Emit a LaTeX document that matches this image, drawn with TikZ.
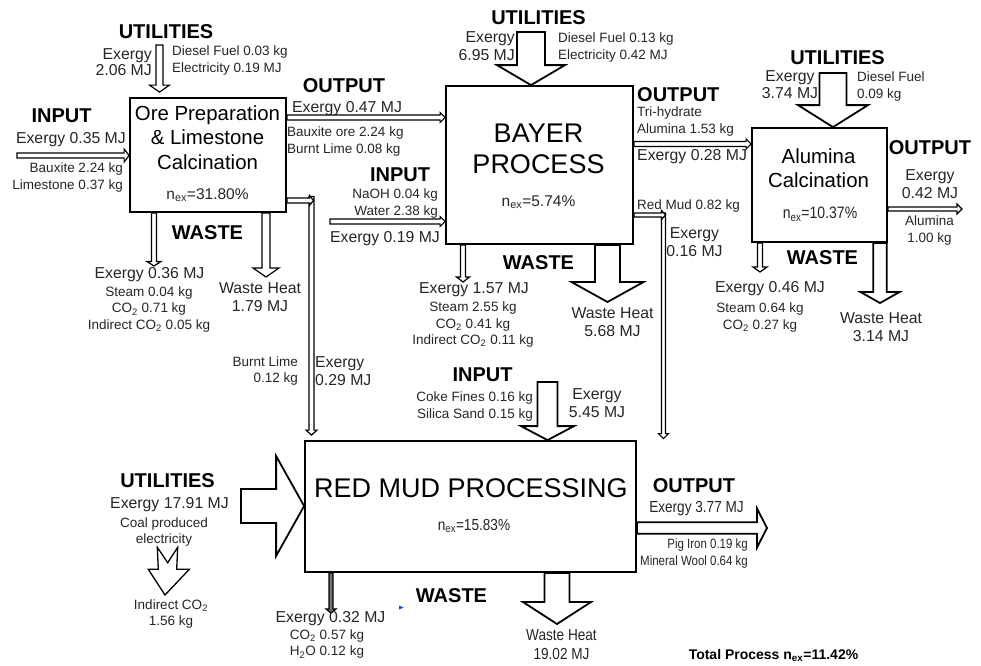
\documentclass[tikz,border=0pt]{standalone}
\usepackage{fontspec}
\setmainfont{Liberation Sans}
\newfontfamily\narrowfont[FakeStretch=0.85]{Liberation Sans}
\usetikzlibrary{calc}
\pgfdeclarelayer{back}
\pgfdeclarelayer{arrows}
\pgfsetlayers{back,arrows,main}

% hollow arrow pointing down: [style]{from}{tip}{shaft half}{head half}{head length}
\newcommand{\flowdown}[6][]{%
  \draw[flowline,#1] let \p1=(#2), \p2=(#3) in
    (\x1-#4pt,\y1) -- (\x1-#4pt,\y2+#6pt) -- (\x1-#5pt,\y2+#6pt) -- (\x1,\y2)
    -- (\x1+#5pt,\y2+#6pt) -- (\x1+#4pt,\y2+#6pt) -- (\x1+#4pt,\y1) -- cycle;}
% hollow arrow pointing right
\newcommand{\flowright}[6][]{%
  \draw[flowline,#1] let \p1=(#2), \p2=(#3) in
    (\x1,\y1+#4pt) -- (\x2-#6pt,\y1+#4pt) -- (\x2-#6pt,\y1+#5pt) -- (\x2,\y1)
    -- (\x2-#6pt,\y1-#5pt) -- (\x2-#6pt,\y1-#4pt) -- (\x1,\y1-#4pt) -- cycle;}

\tikzset{
  flowline/.style={draw=black, fill=white, line width=1.2pt, line join=miter},
  bigflow/.style={line width=1.8pt},
  procbox/.style={draw=black, fill=white, line width=1.8pt, inner sep=0pt},
  hd/.style={font=\fontsize{20}{24}\selectfont\bfseries, inner sep=0pt, text=black},
  md/.style={font=\fontsize{15.8}{18}\selectfont, inner sep=0pt, text=black!85},
  mdn/.style={font=\narrowfont\fontsize{16}{18.5}\selectfont, inner sep=0pt, text=black!85},
  sm/.style={font=\fontsize{13.5}{16.7}\selectfont, inner sep=0pt, text=black!85},
  smn/.style={font=\narrowfont\fontsize{13.5}{17}\selectfont, inner sep=0pt, text=black!85},
  bx/.style={font=\fontsize{20.4}{24.5}\selectfont, inner sep=0pt, align=center, text=black},
  bgt/.style={font=\fontsize{27}{30.5}\selectfont, inner sep=0pt, align=center, text=black},
  nx/.style={font=\fontsize{15.5}{18}\selectfont, inner sep=0pt, text=black!85},
  nxn/.style={font=\narrowfont\fontsize{16.5}{18}\selectfont, inner sep=0pt, text=black!85},
}

\begin{document}
\begin{tikzpicture}[x=1pt,y=-1pt]
\begin{pgfonlayer}{back}
  \fill[white] (0,0) rectangle (981,665);
\end{pgfonlayer}
\path[use as bounding box] (0,0) rectangle (981,665);

% process boxes
\node[procbox, minimum width=156pt, minimum height=114pt] (b1) at (208,155) {};
\node[procbox, minimum width=187pt, minimum height=158pt] (b2) at (539.5,165) {};
\node[procbox, minimum width=135pt, minimum height=114pt] (b3) at (819.5,185) {};
\node[procbox, minimum width=331pt, minimum height=131pt] (b4) at (470.5,506.5) {};

% anchor coordinates for flows
\coordinate (u1) at (159.5,45);
\coordinate (i1) at (17,155.5);
\coordinate (o1) at (0,117.5);
\coordinate (i2) at (330,221.5);
\coordinate (u2) at (531,32);
\coordinate (o2) at (0,144);
\coordinate (u3) at (833,73);
\coordinate (o3) at (962,209);
\coordinate (w1) at (154,266);
\coordinate (h1) at (266,277);
\coordinate (w2) at (463,282);
\coordinate (h2) at (607.5,302);
\coordinate (w3) at (760,272);
\coordinate (h3) at (880,303);
\coordinate (i4) at (547.5,382);
\coordinate (u4) at (241,506);
\coordinate (o4) at (767,528);
\coordinate (h4) at (557,624);
\coordinate (w4) at (331,613);
\coordinate (e1) at (311.5,200.5);
\coordinate (e2) at (663.5,215);

\begin{pgfonlayer}{arrows}
  % ore preparation
  \flowdown{u1}{$(u1 |- b1.north)+(0,-5)$}{3.5}{10}{7}
  \flowright{i1}{i1 -| b1.west}{2.5}{6.5}{5}
  \flowright{b1.east |- o1}{b2.west |- o1}{2.5}{5}{5}
  \flowdown{b1.south -| w1}{w1}{2.5}{7}{4.5}
  \flowdown{b1.south -| h1}{h1}{4}{13}{9}
  % bayer
  \flowright{i2}{i2 -| b2.west}{2.5}{5}{5}
  \flowdown[bigflow]{u2}{u2 |- b2.north}{14}{34}{20}
  \flowright{b2.east |- o2}{b3.west |- o2}{2.5}{5}{5}
  \flowdown{b2.south -| w2}{w2}{2.5}{6.5}{5}
  \flowdown[bigflow]{b2.south -| h2}{h2}{12.5}{36}{20}
  % alumina calcination
  \flowdown[bigflow]{u3}{u3 |- b3.north}{13.5}{35}{22}
  \flowright{b3.east |- o3}{o3}{2}{5}{5}
  \flowdown{b3.south -| w3}{w3}{2.5}{7}{5}
  \flowdown[bigflow]{b3.south -| h3}{h3}{6.7}{19.5}{11}
  % red mud processing
  \flowdown[bigflow]{i4}{i4 |- b4.north}{10}{26.5}{14}
  \flowright[bigflow]{u4}{u4 -| b4.west}{17}{50}{28}
  \flowright[bigflow]{b4.east |- o4}{o4}{5.7}{19.5}{10}
  \flowdown[bigflow]{b4.south -| h4}{h4}{12.5}{34}{22}
  \flowdown[fill=black!55]{b4.south -| w4}{w4}{2}{5}{4}
  % elbow flows into red mud processing
  \flowdown{$(e1)+(0,-4)$}{$(e1 |- b4.north)+(0,-5)$}{2.5}{5.5}{5}
  \flowright{b1.east |- e1}{$(e1)+(2,0)$}{2.5}{5}{4}
  \flowdown{$(e2)+(0,-2)$}{$(e2 |- b4.north)+(0,-1.5)$}{2}{5}{5}
  \flowright{b2.east |- e2}{$(e2)+(2,0)$}{2}{4.5}{4}
\end{pgfonlayer}

% indirect CO2 chevron arrow
\draw[flowline, line width=1.3pt] (157.3,547.3) -- (167.7,562.7) -- (177.7,547.3) -- (176.7,569.3)
  -- (189.3,569.3) -- (165,595) -- (148.3,569.3) -- (158.3,569.3) -- cycle;
% small blue marker
\fill[blue!70!cyan] (399,605.5) -- (403.5,607.5) -- (399,609.5) -- cycle;

% ---- texts: ore preparation ----
\node[hd] (t1) at (166,32) {UTILITIES};
\node[md, align=right, anchor=east, font=\fontsize{15.8}{16.5}\selectfont] (t2) at (152,62) {Exergy\\2.06 MJ};
\node[sm, align=left, anchor=west] (t3) at (172,60.5) {Diesel Fuel 0.03 kg\\Electricity 0.19 MJ};
\node[hd] (t4) at (61.5,115.5) {INPUT};
\node[md, anchor=east] (t5) at (126,140) {Exergy 0.35 MJ};
\node[sm, align=right, anchor=east] (t6) at (123,177.5) {Bauxite 2.24 kg\\Limestone 0.37 kg};
\node[bx] (t1b) at (207.5,137.5) {Ore Preparation\\\& Limestone\\Calcination};
\node[nx] (t1n) at (207.5,195) {n\textsubscript{ex}=31.80\%};
\node[hd] (t7) at (344,85.5) {OUTPUT};
\node[md, anchor=west] (t8) at (292,109) {Exergy 0.47 MJ};
\node[sm, align=left, anchor=west] (t9) at (287,141.5) {Bauxite ore 2.24 kg\\Burnt Lime 0.08 kg};
\node[hd] (t10) at (207.5,232.5) {WASTE};
\node[md] (t11) at (149.5,275) {Exergy 0.36 MJ};
\node[sm, align=center] (t12) at (149,309.5) {Steam 0.04 kg\\CO\textsubscript{2} 0.71 kg\\Indirect CO\textsubscript{2} 0.05 kg};
\node[md, align=center] (t13) at (260,297.5) {Waste Heat\\1.79 MJ};
\node[sm, align=right, anchor=east] (t14) at (298,371) {Burnt Lime\\0.12 kg};
\node[md, align=left, anchor=west] (t15) at (315,371) {Exergy\\0.29 MJ};

% ---- texts: bayer ----
\node[hd] (t16) at (538.5,17.5) {UTILITIES};
\node[md, align=right, anchor=east] (t17) at (515,46) {Exergy\\6.95 MJ};
\node[sm, align=left, anchor=west] (t18) at (558,47.5) {Diesel Fuel 0.13 kg\\Electricity 0.42 MJ};
\node[bgt] (t19) at (538.5,149) {BAYER\\PROCESS};
\node[nx] (t20) at (538.5,202.5) {n\textsubscript{ex}=5.74\%};
\node[hd] (t21) at (400,174.5) {INPUT};
\node[sm, align=right, anchor=east] (t22) at (438,203.5) {NaOH 0.04 kg\\Water 2.38 kg};
\node[md] (t23) at (385,238.5) {Exergy 0.19 MJ};
\node[hd, anchor=west] (t24) at (637,94.5) {OUTPUT};
\node[sm, align=left, anchor=west] (t25) at (637,121.5) {Tri-hydrate\\Alumina 1.53 kg};
\node[md, anchor=west] (t26) at (637,156.5) {Exergy 0.28 MJ};
\node[sm, anchor=west] (t27) at (637,206.5) {Red Mud 0.82 kg};
\node[md, align=center] (t28) at (694.5,242) {Exergy\\0.16 MJ};
\node[hd] (t29) at (538.5,262.5) {WASTE};
\node[md] (t30) at (474,290) {Exergy 1.57 MJ};
\node[sm, align=center] (t31) at (473,324.5) {Steam 2.55 kg\\CO\textsubscript{2} 0.41 kg\\Indirect CO\textsubscript{2} 0.11 kg};
\node[md, align=center] (t32) at (612.5,322) {Waste Heat\\5.68 MJ};

% ---- texts: red mud input ----
\node[hd] (t33) at (482.5,374.5) {INPUT};
\node[sm, align=right, anchor=east] (t34) at (533,406.5) {Coke Fines 0.16 kg\\Silica Sand 0.15 kg};
\node[md, align=center] (t35) at (597,403) {Exergy\\5.45 MJ};

% ---- texts: alumina calcination ----
\node[hd] (t36) at (837.5,57.5) {UTILITIES};
\node[md, align=center, font=\fontsize{15.8}{17}\selectfont] (t37) at (790,85) {Exergy\\3.74 MJ};
\node[sm, align=left, anchor=west] (t38) at (857,86.5) {Diesel Fuel\\0.09 kg};
\node[bx] (t39) at (818.5,168) {Alumina\\Calcination};
\node[nxn] (t40) at (820,214) {n\textsubscript{ex}=10.37\%};
\node[hd] (t41) at (930,147.5) {OUTPUT};
\node[md, align=center] (t42) at (930,184) {Exergy\\0.42 MJ};
\node[sm, align=center] (t43) at (929.5,230.5) {Alumina\\1.00 kg};
\node[hd] (t44) at (822.5,257.5) {WASTE};
\node[md] (t45) at (770,288.5) {Exergy 0.46 MJ};
\node[sm, align=center] (t46) at (760,317.5) {Steam 0.64 kg\\CO\textsubscript{2} 0.27 kg};
\node[md, align=center] (t47) at (881,327.5) {Waste Heat\\3.14 MJ};

% ---- texts: red mud processing ----
\node[hd] (t48) at (167.5,480.5) {UTILITIES};
\node[md] (t49) at (169.5,505) {Exergy 17.91 MJ};
\node[sm, align=center] (t50) at (164,532) {Coal produced\\electricity};
\node[sm, align=center] (t51) at (171,614) {Indirect CO\textsubscript{2}\\1.56 kg};
\node[bgt] (t52) at (471,488.5) {RED MUD PROCESSING};
\node[nxn, font=\narrowfont\fontsize{16}{18}\selectfont] (t53) at (474,526) {n\textsubscript{ex}=15.83\%};
\node[hd] (t54) at (694,485.5) {OUTPUT};
\node[mdn] (t55) at (696.5,508.5) {Exergy 3.77 MJ};
\node[smn, align=right, anchor=east] (t56) at (748,553.5) {Pig Iron 0.19 kg\\Mineral Wool 0.64 kg};
\node[hd] (t57) at (451.5,595.5) {WASTE};
\node[md] (t58) at (330.5,619) {Exergy 0.32 MJ};
\node[sm, align=center] (t59) at (327,644) {CO\textsubscript{2} 0.57 kg\\H\textsubscript{2}O 0.12 kg};
\node[mdn, align=center] (t60) at (561.5,644.5) {Waste Heat\\19.02 MJ};
\node[font=\fontsize{14}{16}\selectfont\bfseries, inner sep=0pt] (t61) at (773.5,655.5) {Total Process n\textsubscript{ex}=11.42\%};
\end{tikzpicture}
\end{document}
